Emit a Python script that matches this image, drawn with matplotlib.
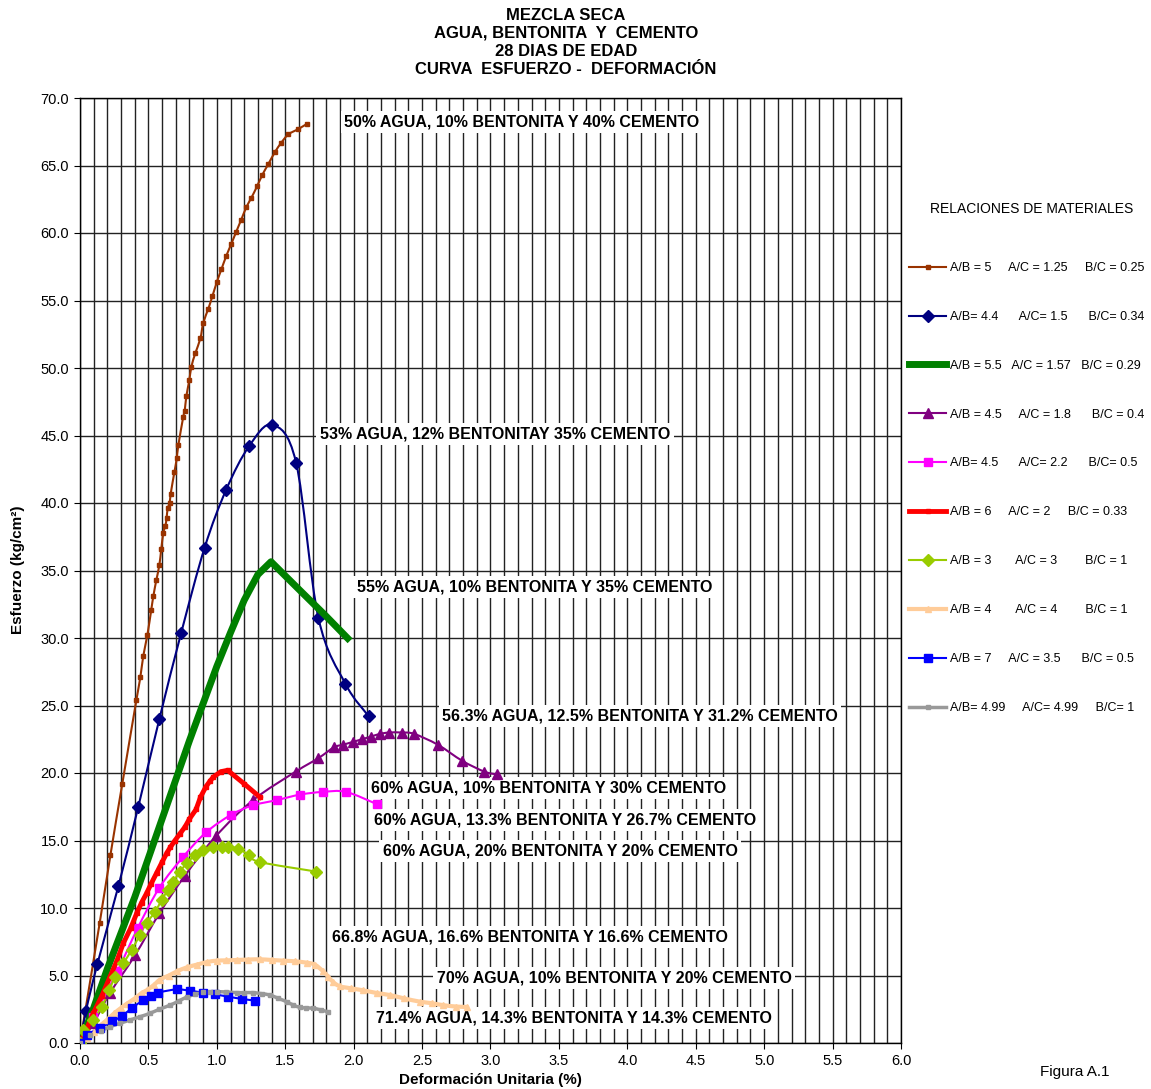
import matplotlib
matplotlib.use("Agg")
import matplotlib.pyplot as plt
import numpy as np
from matplotlib.path import Path
from matplotlib.patches import PathPatch
from matplotlib.lines import Line2D

plt.rcParams['font.family'] = ['Liberation Sans', 'DejaVu Sans']

# curvas esfuerzo (kg/cm2) - deformacion unitaria (%)
def_ab5 = [0.0, 0.144, 0.222, 0.309, 0.412, 0.441, 0.463, 0.492, 0.521, 0.536, 0.558, 0.580, 0.594,
           0.609, 0.624, 0.633, 0.641, 0.655, 0.663, 0.690, 0.707, 0.719, 0.755, 0.765, 0.777, 0.799,
           0.814, 0.843, 0.880, 0.900, 0.938, 0.967, 1.001, 1.033, 1.069, 1.106, 1.142, 1.179, 1.215,
           1.252, 1.296, 1.332, 1.376, 1.425, 1.472, 1.522, 1.595, 1.661]
esf_ab5 = [0.0, 8.9, 13.9, 19.2, 25.4, 27.1, 28.7, 30.2, 32.1, 33.1, 34.3, 35.4, 36.6,
           37.8, 38.3, 38.9, 39.6, 40.0, 40.7, 42.3, 43.3, 44.3, 46.4, 46.8, 47.9, 49.1,
           50.1, 51.1, 52.2, 53.3, 54.4, 55.3, 56.4, 57.3, 58.3, 59.2, 60.1, 61.0, 61.9,
           62.6, 63.5, 64.3, 65.1, 66.0, 66.7, 67.3, 67.7, 68.1]

def_ab44 = [0.0, 0.044, 0.127, 0.280, 0.426, 0.580, 0.740, 0.911, 1.069, 1.235, 1.405, 1.579, 1.742, 1.940, 2.110]
esf_ab44 = [0.0, 2.4, 5.85, 11.6, 17.5, 24.0, 30.4, 36.7, 41.0, 44.2, 45.8, 43.0, 31.5, 26.6, 24.2]

def_ab55 = [0.0, 0.1, 0.2, 0.4, 0.6, 0.8, 1.0, 1.1, 1.2, 1.3, 1.396, 1.6, 1.8, 1.956]
esf_ab55 = [0.0, 2.6, 5.5, 10.8, 16.6, 22.4, 27.9, 30.4, 32.8, 34.7, 35.65, 33.6, 31.6, 29.98]

def_ab45a = [0.0, 0.10, 0.219, 0.402, 0.580, 0.767, 0.991, 1.266, 1.576, 1.742, 1.856, 1.925, 1.993,
             2.061, 2.127, 2.193, 2.260, 2.351, 2.441, 2.614, 2.794, 2.955, 3.045]
esf_ab45a = [0.0, 1.5, 3.7, 6.5, 9.6, 12.4, 15.3, 18.0, 20.1, 21.1, 21.9, 22.1, 22.3,
             22.5, 22.7, 22.9, 23.0, 23.0, 22.9, 22.1, 20.9, 20.1, 19.9]

def_ab45b = [0.0, 0.097, 0.273, 0.421, 0.580, 0.755, 0.921, 1.104, 1.262, 1.442, 1.608, 1.774, 1.944, 2.168]
esf_ab45b = [0.0, 1.9, 5.3, 8.5, 11.5, 13.8, 15.6, 16.9, 17.6, 18.0, 18.4, 18.6, 18.6, 17.7]

def_ab6 = [0.0, 0.05, 0.097, 0.16, 0.219, 0.27, 0.317, 0.37, 0.414, 0.45, 0.487, 0.52, 0.560, 0.60,
           0.633, 0.66, 0.694, 0.73, 0.767, 0.80, 0.848, 0.88, 0.921, 0.95, 0.974, 1.03, 1.079, 1.20, 1.316]
esf_ab6 = [0.0, 1.1, 2.2, 3.5, 4.9, 6.1, 7.4, 8.5, 9.6, 10.4, 11.1, 11.8, 12.6, 13.4,
           14.05, 14.5, 15.0, 15.5, 16.0, 16.6, 17.3, 18.2, 19.0, 19.4, 19.7, 20.1, 20.2, 19.2, 18.2]

def_ab3 = [0.0, 0.024, 0.093, 0.159, 0.214, 0.256, 0.317, 0.378, 0.438, 0.487, 0.548, 0.597, 0.641,
           0.682, 0.731, 0.780, 0.840, 0.900, 0.974, 1.035, 1.084, 1.157, 1.237, 1.316, 1.725]
esf_ab3 = [0.0, 0.96, 1.7, 2.7, 3.9, 4.9, 5.9, 6.9, 8.0, 8.9, 9.7, 10.6, 11.3,
           11.95, 12.7, 13.3, 13.9, 14.3, 14.55, 14.55, 14.5, 14.4, 13.9, 13.4, 12.7]

def_ab4 = [0.0, 0.05, 0.10, 0.15, 0.195, 0.25, 0.30, 0.341, 0.40, 0.45, 0.487, 0.54, 0.585, 0.65,
           0.707, 0.78, 0.853, 0.93, 0.999, 1.07, 1.145, 1.23, 1.316, 1.40, 1.486, 1.57, 1.657, 1.717,
           1.778, 1.815, 1.851, 1.90, 1.98, 2.071, 2.17, 2.266, 2.37, 2.485, 2.57, 2.655, 2.75, 2.83]
esf_ab4 = [0.0, 0.4, 0.8, 1.3, 1.7, 2.2, 2.6, 2.9, 3.3, 3.7, 3.9, 4.3, 4.7, 5.0,
           5.3, 5.6, 5.8, 6.0, 6.1, 6.12, 6.15, 6.18, 6.2, 6.15, 6.1, 6.05, 5.95, 5.8,
           5.3, 4.9, 4.5, 4.2, 4.05, 3.9, 3.7, 3.55, 3.3, 3.06, 2.95, 2.8, 2.7, 2.67]

def_ab7 = [0.0, 0.049, 0.146, 0.236, 0.305, 0.378, 0.463, 0.517, 0.568, 0.707, 0.804, 0.901, 0.987, 1.084, 1.186, 1.279]
esf_ab7 = [0.0, 0.6, 1.1, 1.6, 2.0, 2.57, 3.2, 3.5, 3.73, 3.97, 3.87, 3.73, 3.6, 3.43, 3.26, 3.14]

def_ab499 = [0.0, 0.073, 0.15, 0.219, 0.29, 0.365, 0.44, 0.512, 0.58, 0.658, 0.72, 0.780, 0.84, 0.901,
             0.95, 0.999, 1.07, 1.145, 1.20, 1.267, 1.33, 1.389, 1.45, 1.510, 1.56, 1.608, 1.65, 1.705, 1.76, 1.815]
esf_ab499 = [0.0, 0.6, 0.9, 1.2, 1.45, 1.7, 1.95, 2.2, 2.5, 2.8, 3.1, 3.4, 3.6, 3.75,
             3.8, 3.8, 3.78, 3.73, 3.73, 3.73, 3.65, 3.55, 3.3, 3.06, 2.8, 2.64, 2.6, 2.57, 2.45, 2.3]

leyendas = ["A/B = 5     A/C = 1.25     B/C = 0.25",
            "A/B= 4.4      A/C= 1.5      B/C= 0.34",
            "A/B = 5.5   A/C = 1.57   B/C = 0.29",
            "A/B = 4.5     A/C = 1.8      B/C = 0.4",
            "A/B= 4.5      A/C= 2.2      B/C= 0.5",
            "A/B = 6     A/C = 2     B/C = 0.33",
            "A/B = 3       A/C = 3        B/C = 1",
            "A/B = 4       A/C = 4        B/C = 1",
            "A/B = 7     A/C = 3.5      B/C = 0.5",
            "A/B= 4.99     A/C= 4.99     B/C= 1"]

mezclas = ["50% AGUA, 10% BENTONITA Y 40% CEMENTO",
           "53% AGUA, 12% BENTONITAY 35% CEMENTO",
           "55% AGUA, 10% BENTONITA Y 35% CEMENTO",
           "56.3% AGUA, 12.5% BENTONITA Y 31.2% CEMENTO",
           "60% AGUA, 10% BENTONITA Y 30% CEMENTO",
           "60% AGUA, 13.3% BENTONITA Y 26.7% CEMENTO",
           "60% AGUA, 20% BENTONITA Y 20% CEMENTO",
           "66.8% AGUA, 16.6% BENTONITA Y 16.6% CEMENTO",
           "70% AGUA, 10% BENTONITA Y 20% CEMENTO",
           "71.4% AGUA, 14.3% BENTONITA Y 14.3% CEMENTO"]
mezclas_x = [1.93, 1.754, 2.024, 2.646, 2.127, 2.149, 2.214, 1.842, 2.609, 2.163]
mezclas_y = [68.2, 45.1, 33.8, 24.2, 18.9, 16.5, 14.2, 7.85, 4.8, 1.85]

titulo = ["MEZCLA SECA", "AGUA, BENTONITA  Y  CEMENTO", "28 DIAS DE EDAD", "CURVA  ESFUERZO -  DEFORMACIÓN"]


def curva_suave(ax, x, y, color, lw):
    # linea suavizada tipo Catmull-Rom con segmentos Bezier cubicos
    p = np.column_stack([x, y])
    n = len(p)
    verts = [p[0]]
    codes = [Path.MOVETO]
    for i in range(n - 1):
        p0 = p[i - 1] if i > 0 else p[i]
        p3 = p[i + 2] if i + 2 < n else p[i + 1]
        c1 = p[i] + (p[i + 1] - p0) / 6.0
        c2 = p[i + 1] - (p3 - p[i]) / 6.0
        verts += [c1, c2, p[i + 1]]
        codes += [Path.CURVE4] * 3
    ax.add_patch(PathPatch(Path(verts, codes), fill=False, edgecolor=color, lw=lw,
                           capstyle='round', joinstyle='round', zorder=4))


fig = plt.figure(figsize=(11.51, 10.89), dpi=100)
ax = fig.add_axes([80 / 1151, 1 - 1043 / 1089, 821 / 1151, 945 / 1089])

series = [
    (def_ab5, esf_ab5, '#993300', 1.5, 's', 3.2, True),
    (def_ab44, esf_ab44, '#000080', 1.5, 'D', 6.0, True),
    (def_ab55, esf_ab55, '#008000', 5.0, None, 0, False),
    (def_ab45a, esf_ab45a, '#800080', 1.5, '^', 7.0, True),
    (def_ab45b, esf_ab45b, '#FF00FF', 1.5, 's', 6.0, True),
    (def_ab6, esf_ab6, '#FF0000', 3.5, 's', 2.5, False),
    (def_ab3, esf_ab3, '#99CC00', 1.5, 'D', 6.0, True),
    (def_ab4, esf_ab4, '#FFCC99', 3.0, '^', 4.0, True),
    (def_ab7, esf_ab7, '#0000FF', 1.5, 's', 6.0, True),
    (def_ab499, esf_ab499, '#999999', 2.5, 's', 3.5, True),
]

handles = []
for (x, y, c, lw, m, ms, suave), lab in zip(series, leyendas):
    if suave:
        curva_suave(ax, x, y, c, lw)
        ax.plot(x, y, ls='none', marker=m, ms=ms, color=c, zorder=5)
    else:
        ax.plot(x, y, color=c, lw=lw, marker=m, ms=ms, zorder=5)
    handles.append(Line2D([], [], color=c, lw=lw, marker=m, ms=ms))

for t, tx, ty in zip(mezclas, mezclas_x, mezclas_y):
    ax.text(tx, ty, t, fontsize=11.5, fontweight='bold', ha='left', va='center', zorder=3,
            bbox=dict(facecolor='white', edgecolor='none', pad=2.5))

ax.set_xlim(0, 6)
ax.set_ylim(0, 70)
ax.set_xticks(np.arange(0, 6.01, 0.5))
ax.set_xticks(np.arange(0, 6.01, 0.1), minor=True)
ax.set_yticks(np.arange(0, 70.01, 5))
ax.xaxis.set_major_formatter(matplotlib.ticker.FormatStrFormatter('%.1f'))
ax.yaxis.set_major_formatter(matplotlib.ticker.FormatStrFormatter('%.1f'))
ax.tick_params(axis='both', which='major', direction='out', length=4, labelsize=10.5, pad=4)
ax.tick_params(axis='x', which='minor', length=0)
ax.grid(True, which='both', axis='x', color='#222222', lw=1.0, zorder=0)
ax.grid(True, which='major', axis='y', color='#222222', lw=1.0, zorder=0)
ax.set_axisbelow(True)
for s in ax.spines.values():
    s.set_linewidth(1.0)
    s.set_color('black')

for i, linea in enumerate(titulo):
    fig.text(566 / 1151, 1 - (15 + 18 * i) / 1089, linea, fontsize=12, fontweight='bold',
             ha='center', va='center')

fig.text(490 / 1151, 1 - 1080 / 1089, "Deformación Unitaria (%)", fontsize=11, fontweight='bold',
         ha='center', va='center')
fig.text(18 / 1151, 1 - 570 / 1089, "Esfuerzo (kg/cm²)", fontsize=11, fontweight='bold',
         ha='center', va='center', rotation=90)

fig.text(1032 / 1151, 1 - 209 / 1089, "RELACIONES DE MATERIALES", fontsize=10,
         ha='center', va='center')
fig.legend(handles, leyendas, loc='upper left', bbox_to_anchor=(909 / 1151, 1 - 262 / 1089),
           frameon=False, fontsize=9, handlelength=2.96, handletextpad=0.32,
           labelspacing=2.95, borderpad=0, borderaxespad=0)

fig.text(1075 / 1151, 1 - 1072 / 1089, "Figura A.1", fontsize=11, ha='center', va='center')

fig.savefig("out.png", dpi=100)
